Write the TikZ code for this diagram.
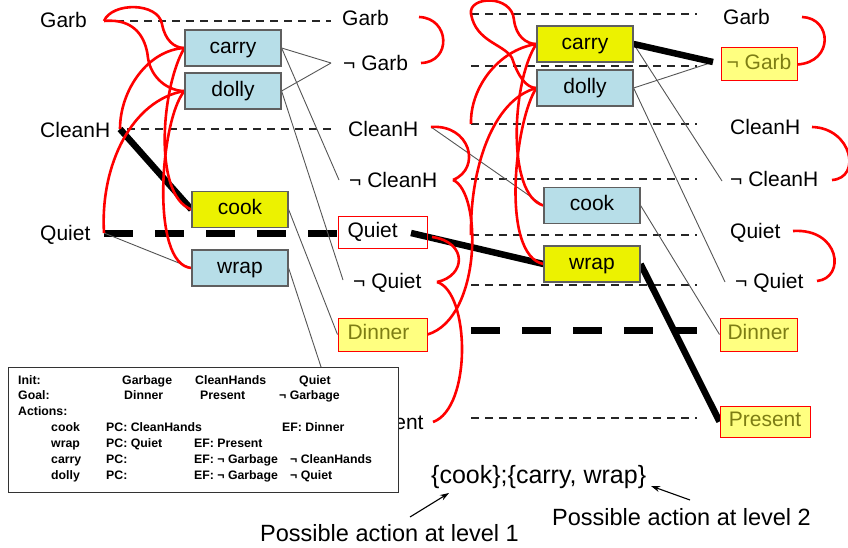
\documentclass[tikz,border=0pt]{standalone}
\usepackage{fontspec}
\setmainfont{Liberation Sans}
\usetikzlibrary{arrows.meta}
\pgfdeclarelayer{links}
\pgfsetlayers{links,main}
\definecolor{actblue}{RGB}{183,222,232}
\definecolor{actyellow}{RGB}{236,242,0}
\definecolor{goalfill}{RGB}{255,255,128}
\definecolor{goaltext}{RGB}{125,125,20}
\definecolor{boxedge}{RGB}{95,95,95}
\definecolor{linkgray}{RGB}{85,85,85}
\begin{document}
\begin{tikzpicture}[x=1pt,y=-1pt,
  big/.style={font=\fontsize{21}{25}\selectfont},
  prop/.style={big, inner sep=0pt, anchor=base west},
  act/.style={big, draw=boxedge, line width=1.2pt, minimum width=96pt,
    minimum height=36pt, inner sep=0pt, text height=15pt, text depth=4.5pt},
  actb/.style={act, fill=actblue},
  acty/.style={act, fill=actyellow},
  goalbox/.style={big, draw=red, line width=1pt, fill=goalfill, text=goaltext,
    inner ysep=0pt, text height=15pt, text depth=4.5pt},
  leftbox/.style={text width=70pt, align=left, inner xsep=9.5pt},
  noop/.style={line width=1.5pt, dash pattern=on 8pt off 6pt, black!85},
  noopheavy/.style={line width=7pt, dash pattern=on 29pt off 22pt},
  chosen/.style={line width=6.5pt},
  link/.style={linkgray, line width=0.9pt},
  mutex/.style={red, line width=2.6pt},
  tb/.style={font=\bfseries\fontsize{12.3}{14}\selectfont, inner sep=0pt, anchor=base west},
  caption/.style={font=\fontsize{23.5}{28}\selectfont, inner sep=0pt, anchor=base west},
  pointer/.style={line width=1.1pt, -{Stealth[length=9pt,width=6pt]}}
]
\useasboundingbox (0,0) rectangle (848,548);

% ---- level 0 propositions
\node[prop] (g0) at (40,28) {Garb};
\node[prop] (c0) at (40,137.5) {CleanH};
\node[prop] (q0) at (40,240) {Quiet};

% ---- level 1 actions
\node[actb] (carry1) at (233,48) {carry};
\node[actb] (dolly1) at (233,91) {dolly};
\node[acty] (cook1) at (240,209.5) {cook};
\node[actb] (wrap1) at (240,268) {wrap};

% ---- level 1 propositions
\node[prop] (g1) at (342,26) {Garb};
\node[prop] (ng1) at (343,71) {¬ Garb};
\node[prop] (c1) at (348,137) {CleanH};
\node[prop] (nc1) at (349,187) {¬ CleanH};
\node[big, draw=red, line width=1pt, leftbox, minimum height=32pt, inner ysep=0pt,
  text height=15pt, text depth=4.5pt] (q1) at (382.5,232) {Quiet};
\node[prop] (nq1) at (353,288) {¬ Quiet};
\node[goalbox, leftbox, minimum height=33pt] (d1) at (382.5,334.5) {Dinner};
\node[prop] (p1) at (351,429) {Present};

% ---- level 2 actions
\node[acty] (carry2) at (585,44) {carry};
\node[actb] (dolly2) at (585,88) {dolly};
\node[actb] (cook2) at (592,205.5) {cook};
\node[acty] (wrap2) at (592,264) {wrap};

% ---- level 2 propositions
\node[prop] (g2) at (723,25) {Garb};
\node[goalbox, minimum width=76pt, minimum height=33pt] (ng2) at (759,64.5) {¬ Garb};
\node[prop] (c2) at (730,135) {CleanH};
\node[prop] (nc2) at (730,186) {¬ CleanH};
\node[prop] (q2) at (730,238) {Quiet};
\node[prop] (nq2) at (735,288) {¬ Quiet};
\node[goalbox, minimum width=77pt, minimum height=33pt] (d2) at (758.5,334.5) {Dinner};
\node[goalbox, minimum width=90pt, minimum height=31pt] (p2) at (765,421.5) {Present};

% ---- attachment points of persistence lines and mutex arcs
\coordinate (g0s) at (104,21);
\coordinate (g0d) at (116,21);
\coordinate (g0e) at (331,21);
\coordinate (c0s) at (120,129);
\coordinate (c0d) at (127,129);
\coordinate (c0e) at (331,129);
\coordinate (q0s) at (104,233);
\coordinate (g1r) at (419,17);
\coordinate (ng1r) at (421,63);
\coordinate (ng1l) at (331,63);
\coordinate (c1r) at (431,127);
\coordinate (nc1r) at (453,180);
\coordinate (nc1l) at (339,180);
\coordinate (q1t) at (411,233);
\coordinate (q1r) at (432,237);
\coordinate (nq1r) at (437,282);
\coordinate (nq1l) at (343,280);
\coordinate (p1r) at (433,422);
\foreach \n/\y in {g1/14, ng1/66, c1/124, nc1/179, q1/235, nq1/285, d1/330, p1/418}{
  \coordinate (\n-s) at (471,\y);
  \coordinate (\n-e) at (697,\y);
}
\coordinate (g2r) at (802,17);
\coordinate (ng2l) at (713,62);
\coordinate (c2r) at (812,127);
\coordinate (nc2r) at (832,180);
\coordinate (nc2l) at (722,181);
\coordinate (q2r) at (793,231);
\coordinate (nq2r) at (817,281);
\coordinate (nq2l) at (725,282);

\begin{pgfonlayer}{links}
  % persistence (no-op) lines
  \draw[noop] (g0d) -- (g0e);
  \draw[noop] (c0d) -- (c0e);
  \draw[noopheavy] (q0s) -- (q0s -| q1.west);
  \foreach \n in {g1, ng1, c1, nc1, q1, nq1, p1}{
    \draw[noop] (\n-s) -- (\n-e);
  }
  \draw[noopheavy] (d1-s) -- (d1-e);

  % preconditions and effects
  \draw[link] (q0s) -- (wrap1.west);
  \draw[link] (carry1.east) -- (ng1l);
  \draw[link] (dolly1.east) -- (ng1l);
  \draw[link] (carry1.east) -- (nc1l);
  \draw[link] (dolly1.east) -- (nq1l);
  \draw[link] (cook1.east) -- (d1.west);
  \draw[link] (wrap1.east) -- ([xshift=-12pt]p1.west);
  \draw[link] (c1r) -- (cook2.west);
  \draw[link] (carry2.east) -- (ng2l);
  \draw[link] (dolly2.east) -- (ng2l);
  \draw[link] (carry2.east) -- (nc2l);
  \draw[link] (dolly2.east) -- (nq2l);
  \draw[link] (cook2.east) -- (d2.west);

  % extracted plan
  \draw[chosen] (c0s) -- (cook1.west);
  \draw[chosen] (q1t) -- (wrap2.west);
  \draw[chosen] (carry2.east) -- (ng2l);
  \draw[chosen] (wrap2.east) -- (p2.west);

  % mutex arcs, action level 1
  \draw[mutex] (g0s) .. controls (112,2) and (158,2) .. (162,24)
                     .. controls (165,40) and (174,48) .. (carry1.west);
  \draw[mutex] (g0s) .. controls (135,18) and (146,38) .. (148,58)
                     .. controls (151,78) and (168,91) .. (dolly1.west);
  \draw[mutex] (carry1.west) .. controls (148,50) and (120,90) .. (c0s);
  \draw[mutex] (carry1.west) .. controls (162,85) and (152,195) .. (cook1.west);
  \draw[mutex] (dolly1.west) .. controls (132,100) and (100,165) .. (q0s);
  \draw[mutex] (dolly1.west) .. controls (160,120) and (150,265) .. (wrap1.west);

  % mutex arcs, proposition level 1
  \draw[mutex] (g1r) .. controls (450,18) and (452,62) .. (ng1r);
  \draw[mutex] (c1r) .. controls (470,124) and (482,168) .. (nc1r);
  \draw[mutex] (nc1r) .. controls (482,192) and (482,318) .. (d1.east);
  \draw[mutex] (q1r) .. controls (468,242) and (466,276) .. (nq1r);
  \draw[mutex] (nq1r) .. controls (470,292) and (472,408) .. (p1r);

  % mutex arcs, action level 2
  \draw[mutex] (g1-s) .. controls (468,-4) and (512,-6) .. (514,20)
                      .. controls (516,36) and (526,44) .. (carry2.west);
  \draw[mutex] (g1-s) .. controls (476,42) and (504,44) .. (512,58)
                      .. controls (518,76) and (526,88) .. (dolly2.west);
  \draw[mutex] (carry2.west) .. controls (498,50) and (470,88) .. (c1-s);
  \draw[mutex] (carry2.west) .. controls (512,80) and (506,195) .. (cook2.west);
  \draw[mutex] (dolly2.west) .. controls (492,100) and (470,170) .. (q1-s);
  \draw[mutex] (dolly2.west) .. controls (515,120) and (500,255) .. (wrap2.west);

  % mutex arcs, proposition level 2
  \draw[mutex] (g2r) .. controls (832,18) and (834,62) .. (ng2.east);
  \draw[mutex] (c2r) .. controls (852,128) and (862,178) .. (nc2r);
  \draw[mutex] (q2r) .. controls (840,228) and (846,278) .. (nq2r);
\end{pgfonlayer}

% ---- problem summary
\node[draw=black!80, line width=1.3pt, fill=white, anchor=north west, inner sep=0pt,
  minimum width=390pt, minimum height=125pt] (legend) at (8,367) {};
\node[tb] (tInit) at (18,384) {Init:};
\node[tb] (tInitA) at (122,384) {Garbage};
\node[tb] (tInitB) at (195,384) {CleanHands};
\node[tb] (tInitC) at (299,384) {Quiet};
\node[tb] (tGoal) at (18,399) {Goal:};
\node[tb] (tGoalA) at (124,399) {Dinner};
\node[tb] (tGoalB) at (200,399) {Present};
\node[tb] (tGoalC) at (279,399) {¬ Garbage};
\node[tb] (tAct) at (18,415) {Actions:};
\node[tb] (tCook) at (51,431) {cook};
\node[tb] (tCookP) at (106,431) {PC: CleanHands};
\node[tb] (tCookE) at (282,431) {EF: Dinner};
\node[tb] (tWrap) at (51,447) {wrap};
\node[tb] (tWrapP) at (106,447) {PC: Quiet};
\node[tb] (tWrapE) at (194,447) {EF: Present};
\node[tb] (tCarry) at (51,463) {carry};
\node[tb] (tCarryP) at (106,463) {PC:};
\node[tb] (tCarryE) at (194,463) {EF: ¬ Garbage};
\node[tb] (tCarryF) at (290,463) {¬ CleanHands};
\node[tb] (tDolly) at (51,479) {dolly};
\node[tb] (tDollyP) at (106,479) {PC:};
\node[tb] (tDollyE) at (194,479) {EF: ¬ Garbage};
\node[tb] (tDollyF) at (290,479) {¬ Quiet};

% ---- plan and its annotations
\node[inner sep=0pt, anchor=base west, font=\fontsize{25}{30}\selectfont] (plan) at (431,483) {\{cook\};\{carry, wrap\}};
\node[caption] (lvl1) at (260,541) {Possible action at level 1};
\node[caption] (lvl2) at (552,525) {Possible action at level 2};
\coordinate (a1s) at (410,517);
\coordinate (a1e) at (449,493);
\coordinate (a2s) at (690,500);
\coordinate (a2e) at (651,486);
\draw[pointer] (a1s) -- (a1e);
\draw[pointer] (a2s) -- (a2e);
\end{tikzpicture}
\end{document}
